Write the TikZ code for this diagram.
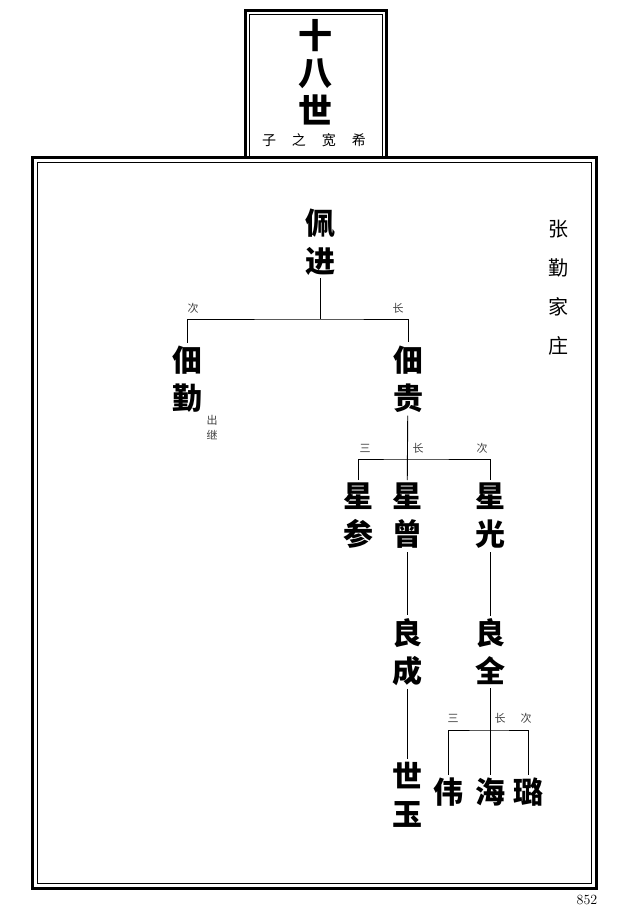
\documentclass[tikz,border=0pt]{standalone}
\usepackage{fontspec}
\newfontfamily\cjk{Noto Sans CJK SC}
\usetikzlibrary{positioning}

\tikzset{
  heavy/.style={line width=3pt},
  light/.style={line width=1pt},
  link/.style={line width=0.9pt},
  person/.style={font=\cjk\bfseries\fontsize{30}{38}\selectfont, align=center, inner sep=3pt},
  rank/.style={font=\cjk\fontsize{11}{11}\selectfont, text=black!75, inner sep=0pt},
}

\begin{document}
\begin{tikzpicture}[x=1pt,y=-1pt]
  \useasboundingbox (0,0) rectangle (637,912);
  \draw[heavy] (32.5,158) rectangle (596.5,888);
  \draw[light] (37,163) rectangle (591,883);
  \draw[heavy] (245,157) -- (245,11) -- (386,11) -- (386,157);
  \draw[light] (249,157) -- (249,15) -- (382,15) -- (382,157);
  \node[font=\cjk\bfseries\fontsize{34}{37.5}\selectfont, align=center, inner sep=0pt] (gen) at (315,72) {十\\八\\世};
  \node[font=\cjk\fontsize{14}{14}\selectfont, inner sep=0pt] (poem) at (314,140) {子\hspace{16pt}之\hspace{16pt}宽\hspace{16pt}希};
  \node[font=\cjk\fontsize{20}{39}\selectfont, align=center, inner sep=0pt] (place) at (558,288) {张\\勤\\家\\庄};
  \node[font=\fontsize{14}{14}\selectfont, inner sep=0pt] (page) at (587,900) {852};

  \node[person] (peijin) at (320,242) {佩\\进};
  \node[person] (dianqin) at (187,379) {佃\\勤};
  \node[person] (diangui) at (408,379) {佃\\贵};
  \node[rank, align=center, font=\cjk\fontsize{11}{15}\selectfont] (chuji) at (212,428) {出\\继};
  \node[person] (xingcan) at (358,516) {星\\参};
  \node[person] (xingzeng) at (407,516) {星\\曾};
  \node[person] (xingguang) at (490,516) {星\\光};
  \node[person] (liangcheng) at (407,652) {良\\成};
  \node[person] (liangquan) at (490,652) {良\\全};
  \node[person] (shiyu) at (407,795) {世\\玉};
  \node[person] (wei) at (448,792) {伟};
  \node[person] (hai) at (490,792) {海};
  \node[person] (lu) at (528,792) {璐};

  \coordinate (j1) at (320,319);
  \coordinate (j2) at (408,459);
  \coordinate (j3) at (490,730);
  \draw[link] (peijin) -- (j1);
  \draw[link] (dianqin.north) |- (j1) -| (diangui.north);
  \draw[link] (diangui) -- (xingzeng);
  \draw[link] (xingcan.north) |- (j2) -| (xingguang.north);
  \draw[link] (xingzeng) -- (liangcheng);
  \draw[link] (xingguang) -- (liangquan);
  \draw[link] (liangcheng) -- (shiyu);
  \draw[link] (liangquan) -- (hai);
  \draw[link] (wei.north) |- (j3) -| (lu.north);

  \node[rank] (r1) at (193,308) {次};
  \node[rank] (r2) at (398,308) {长};
  \node[rank] (r3) at (365,448) {三};
  \node[rank] (r4) at (418,448) {长};
  \node[rank] (r5) at (482,448) {次};
  \node[rank] (r6) at (453,718) {三};
  \node[rank] (r7) at (500,718) {长};
  \node[rank] (r8) at (526,718) {次};
\end{tikzpicture}
\end{document}
